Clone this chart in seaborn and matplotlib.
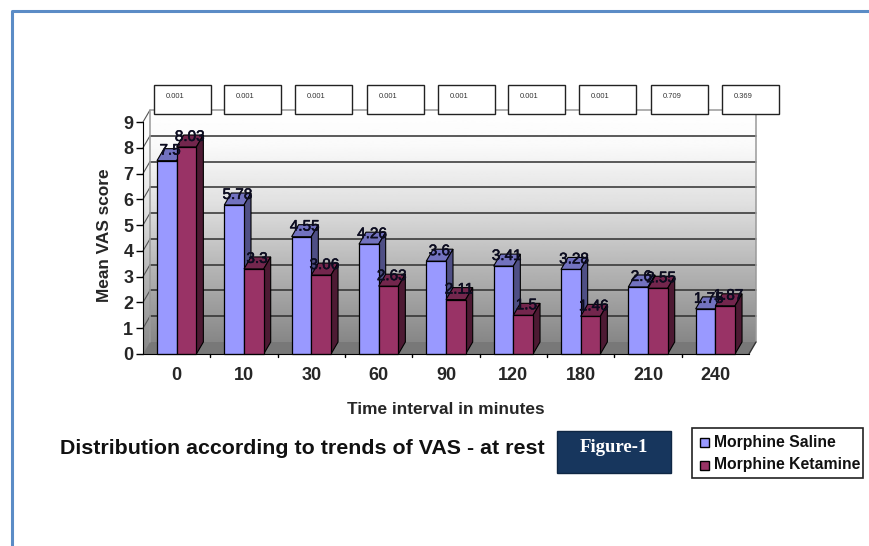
import numpy as np
import pandas as pd
import matplotlib
matplotlib.use("Agg")
import matplotlib.pyplot as plt
import matplotlib.patheffects as pe
import seaborn as sns
from matplotlib.patches import Polygon, Rectangle
from matplotlib.lines import Line2D

times = ['0', '10', '30', '60', '90', '120', '180', '210', '240']
saline = [7.5, 5.78, 4.55, 4.26, 3.6, 3.41, 3.28, 2.6, 1.75]
ketamine = [8.03, 3.3, 3.06, 2.63, 2.11, 1.5, 1.46, 2.55, 1.87]
saline_labels = ['7.5', '5.78', '4.55', '4.26', '3.6', '3.41', '3.28', '2.6', '1.75']
ketamine_labels = ['8.03', '3.3', '3.06', '2.63', '2.11', '1.5', '1.46', '2.55', '1.87']
p_values = ['0.001', '0.001', '0.001', '0.001', '0.001', '0.001', '0.001', '0.709', '0.369']
series_names = ['Morphine Saline', 'Morphine Ketamine']

W, H = 870, 546


def px(x, y):
    # pixel position in the reference -> figure fraction
    return x / W, 1 - y / H


sns.set_style("white")
plt.rcParams['font.family'] = ['Liberation Sans', 'DejaVu Sans']

fig = plt.figure(figsize=(W / 100, H / 100), dpi=100)
left, right, top, bottom = 143, 749, 122, 354
ax = fig.add_axes([left / W, 1 - bottom / H, (right - left) / W, (bottom - top) / H])

df = pd.DataFrame({
    'time': times * 2,
    'score': saline + ketamine,
    'group': [series_names[0]] * 9 + [series_names[1]] * 9,
})
sns.barplot(data=df, x='time', y='score', hue='group', order=times, ax=ax, width=0.585, gap=0,
            palette=['#9999ff', '#993366'], saturation=1, edgecolor='black', linewidth=0.9, legend=True)
handles, labels = ax.get_legend_handles_labels()
ax.get_legend().remove()

ax.set_xlim(-0.5, 8.5)
ax.set_ylim(0, 9)
ax.set_facecolor('none')

# depth of the fake 3D box, in data units
dx = 7 / ((right - left) / 9)
dy = 12 / ((bottom - top) / 9)

# back wall and side wall, light at the top and dark at the floor
shades = np.interp(np.linspace(0, 1, 200), [0, 0.15, 0.4, 0.7, 1], [1.0, 0.98, 0.88, 0.70, 0.53])
wall = ax.imshow(shades[:, None], cmap='gray', vmin=0, vmax=1, aspect='auto', zorder=0, clip_on=False,
                 extent=(-0.5 + dx, 8.5 + dx, dy, 9 + dy))
side = ax.imshow(shades[:, None], cmap='gray', vmin=0, vmax=1, aspect='auto', zorder=0, clip_on=False,
                 extent=(-0.5, -0.5 + dx, 0, 9 + dy))
side_clip = Polygon([(-0.5, 0), (-0.5 + dx, dy), (-0.5 + dx, 9 + dy), (-0.5, 9)], transform=ax.transData)
side.set_clip_path(side_clip)
ax.set_xlim(-0.5, 8.5)
ax.set_ylim(0, 9)

ax.add_patch(Polygon([(-0.5, 0), (-0.5 + dx, dy), (8.5 + dx, dy), (8.5, 0)], facecolor='#787878',
                     edgecolor='none', zorder=0.5, clip_on=False))

for v in range(0, 10):
    if 0 < v < 9:
        ax.plot([-0.5 + dx, 8.5 + dx], [v + dy, v + dy], color='#2e2e2e', lw=1.1, zorder=1, clip_on=False)
    if v > 0:
        ax.plot([-0.5, -0.5 + dx], [v, v + dy], color='#555555', lw=0.8, zorder=1, clip_on=False)
ax.plot([-0.5 + dx, -0.5 + dx, 8.5 + dx, 8.5 + dx], [dy, 9 + dy, 9 + dy, dy], color='#9a9a9a', lw=1.1,
        zorder=1, clip_on=False)
ax.plot([8.5, 8.5 + dx], [0, dy], color='#333333', lw=1, zorder=1, clip_on=False)

# faces of each bar taken from the patches seaborn drew
bars = [b for b in ax.patches if isinstance(b, Rectangle) and b.get_width() > 0 and b.get_height() > 0]
bars = sorted(bars[:18], key=lambda b: b.get_x())
face_colors = {0: ('#7272bf', '#4f4f85'), 1: ('#73264d', '#4d1a33')}
for n, b in enumerate(bars):
    kind = n % 2
    x0, x1, h = b.get_x(), b.get_x() + b.get_width(), b.get_height()
    z = 3 + n
    b.set_zorder(z + 0.5)
    b.set_clip_on(False)
    top_col, side_col = face_colors[kind]
    ax.add_patch(Polygon([(x0, h), (x0 + dx, h + dy), (x1 + dx, h + dy), (x1, h)], facecolor=top_col,
                         edgecolor='black', lw=0.8, zorder=z, clip_on=False))
    ax.add_patch(Polygon([(x1, 0), (x1 + dx, dy), (x1 + dx, h + dy), (x1, h)], facecolor=side_col,
                         edgecolor='black', lw=0.8, zorder=z, clip_on=False))

for i, b in enumerate(bars):
    text = (saline_labels if i % 2 == 0 else ketamine_labels)[i // 2]
    t = ax.text(b.get_x() + b.get_width() / 2 + dx * 0.45, b.get_height() + dy * 0.84, text, ha='center',
                va='center', fontsize=11, color='#0c0c20', zorder=40, clip_on=False)
    t.set_path_effects([pe.withStroke(linewidth=0.4, foreground='#0c0c20')])

sns.despine(ax=ax, top=True, right=True)
ax.spines['left'].set_color('black')
ax.spines['bottom'].set_color('black')
ax.spines['left'].set_zorder(30)
ax.spines['bottom'].set_zorder(30)
ax.set_yticks(range(0, 10))
ax.tick_params(axis='y', length=5, width=1, color='black', left=True, pad=2, labelsize=13)
ax.tick_params(axis='x', length=0, pad=9, labelsize=13)
for lab in ax.get_xticklabels() + ax.get_yticklabels():
    lab.set_fontweight('bold')
for edge in np.arange(0.5, 8.5):
    ax.plot([edge, edge], [0, -0.12], color='black', lw=1, clip_on=False, zorder=30)
ax.set_xlabel('Time interval in minutes', fontsize=12.4, fontweight='bold', labelpad=13)
ax.set_ylabel('Mean VAS score', fontsize=12.4, fontweight='bold', labelpad=8, y=0.51)

# p value boxes above the plot
box_lefts = [154, 224, 295, 367, 438, 508, 579, 651, 722]
for x, p in zip(box_lefts, p_values):
    fx, fy = px(x, 114)
    fig.add_artist(Rectangle((fx, fy), 57 / W, 29 / H, transform=fig.transFigure, facecolor='white',
                             edgecolor='#222222', lw=1, zorder=50))
    tx, ty = px(x + 12, 96)
    fig.text(tx, ty, p, fontsize=5.4, color='#333333', va='center', zorder=51)

# title, figure tag and frame
tx, ty = px(60, 449)
fig.text(tx, ty, 'Distribution according to trends of VAS - at rest', fontsize=15.4, fontweight='bold',
         va='center', color='#111111')
fx, fy = px(557, 473)
fig.add_artist(Rectangle((fx, fy), 114 / W, 42 / H, transform=fig.transFigure, facecolor='#17365d',
                         edgecolor='#0f2744', lw=1))
tx, ty = px(614, 448)
fig.text(tx, ty, 'Figure-1', fontsize=13.5, fontweight='bold', family='Liberation Serif', color='white',
         ha='center', va='center')

fx, fy = px(692, 478)
fig.add_artist(Rectangle((fx, fy), 171 / W, 50 / H, transform=fig.transFigure, facecolor='white',
                         edgecolor='#222222', lw=1.2))
for h, name, yy in zip(handles, series_names, [442, 465]):
    sx, sy = px(700, yy + 4.5)
    fig.add_artist(Rectangle((sx, sy), 9 / W, 9 / H, transform=fig.transFigure,
                             facecolor=h.get_facecolor(), edgecolor='black', lw=1))
    tx, ty = px(714, yy)
    fig.text(tx, ty, name, fontsize=11.3, fontweight='bold', va='center', color='#111111')

frame = '#5b8cc6'
x0, y0 = px(12.5, 546)
x1, y1 = px(12.5, 10.5)
x2, y2 = px(870, 10.5)
fig.add_artist(Line2D([x0, x1, x2], [y0, y1, y2], transform=fig.transFigure, color=frame, lw=2.2))

fig.savefig('out.png', dpi=100)
